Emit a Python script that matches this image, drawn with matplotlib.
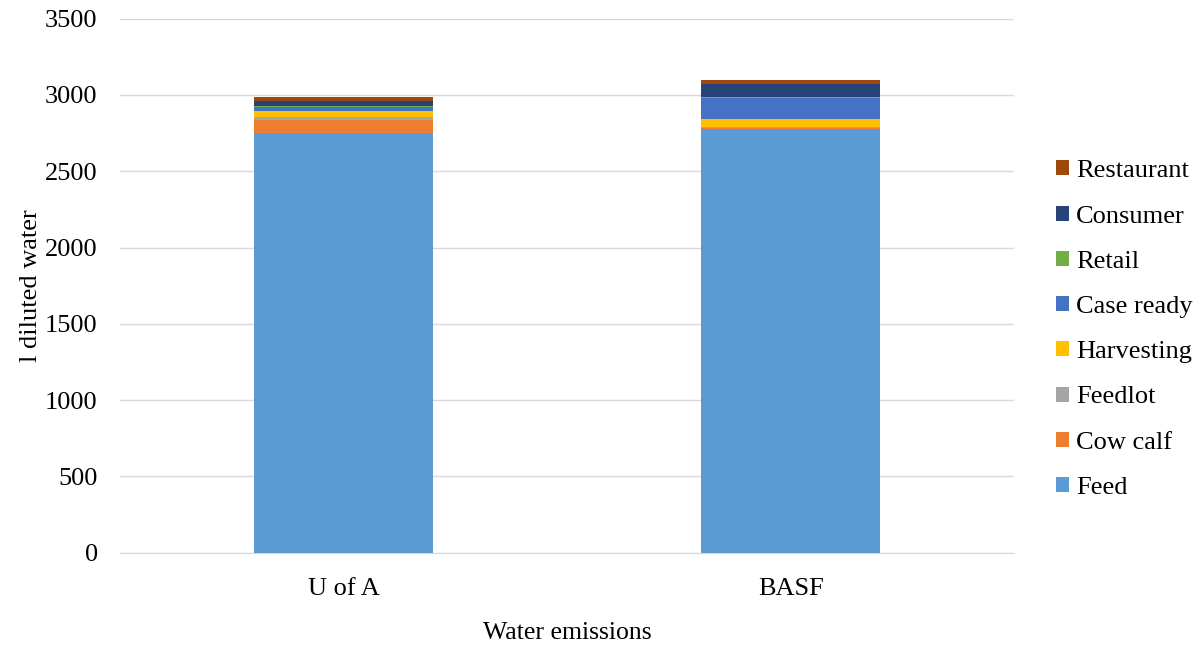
import matplotlib.pyplot as plt
import numpy as np

plt.rcParams['font.family'] = ['Liberation Serif', 'DejaVu Serif']

categories = ["U of A", "BASF"]
stages = ["Feed", "Cow calf", "Feedlot", "Harvesting", "Case ready", "Retail", "Consumer", "Restaurant"]
feed = [2750, 2775]
cow_calf = [85, 8]
feedlot = [22, 5]
harvesting = [41, 57]
case_ready = [22, 138]
retail = [7, 2]
consumer = [35, 90]
restaurant = [26, 22]
colors = ["#5B9BD5", "#ED7D31", "#A5A5A5", "#FFC000", "#4472C4", "#70AD47", "#264478", "#9E480E"]

series = [feed, cow_calf, feedlot, harvesting, case_ready, retail, consumer, restaurant]

fig = plt.figure(figsize=(11.99, 6.45), dpi=100)
ax = fig.add_axes([0.1, 0.143, 0.746, 0.828])

x = np.arange(len(categories))
bottom = np.zeros(len(categories))
for name, vals, col in zip(stages, series, colors):
    ax.bar(x, vals, 0.4, bottom=bottom, color=col, label=name, zorder=3)
    bottom += np.array(vals)

ax.set_xlim(-0.5, 1.5)
ax.set_ylim(0, 3500)
ax.set_yticks(range(0, 3501, 500))
ax.set_xticks(x)
ax.set_xticklabels(categories)
ax.yaxis.grid(True, color="#D9D9D9", linewidth=1, zorder=0)
for s in ["top", "right", "left"]:
    ax.spines[s].set_visible(False)
ax.spines["bottom"].set_color("#D9D9D9")
ax.tick_params(axis="y", length=0, labelsize=19, colors="#000000", pad=16)
ax.tick_params(axis="x", length=0, labelsize=19, colors="#000000", pad=18)
ax.set_ylabel("l diluted water", fontsize=19, labelpad=2)
ax.set_xlabel("Water emissions", fontsize=18.5, labelpad=16)

handles, labels = ax.get_legend_handles_labels()
fig.legend(handles[::-1], labels[::-1], loc="center left", bbox_to_anchor=(0.872, 0.489),
           frameon=False, fontsize=19, handlelength=0.5, handleheight=0.5,
           handletextpad=0.25, labelspacing=0.88, borderaxespad=0.0)

fig.savefig("out.png", dpi=100)
